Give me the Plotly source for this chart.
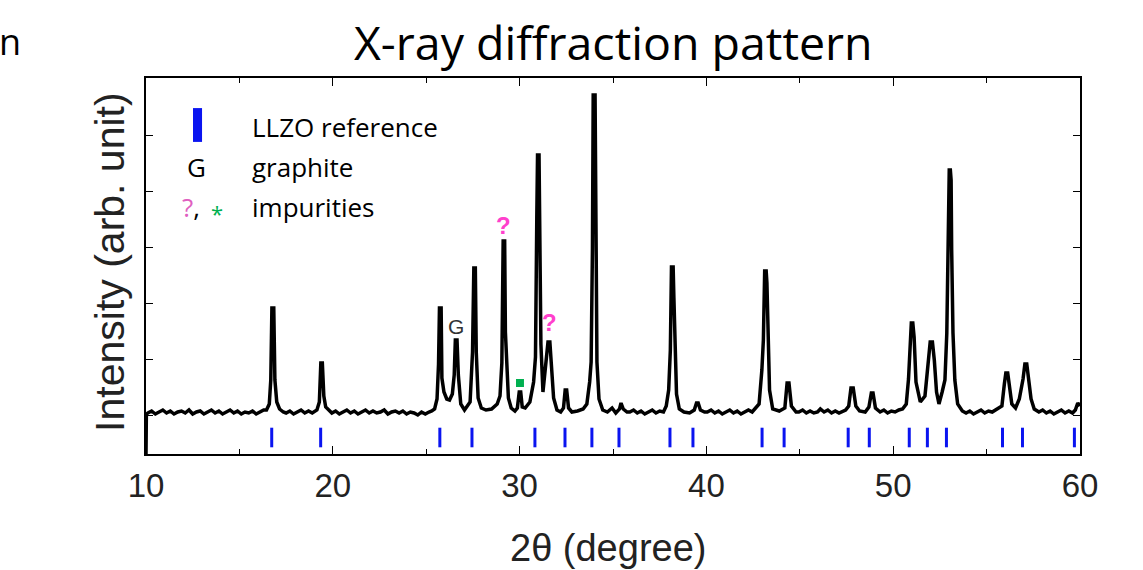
import plotly.graph_objects as go

# XRD pattern (2theta in degree, intensity in arb. unit)
two_theta = [
    10.00, 10.02, 10.1, 10.3, 10.5, 10.7, 10.9, 11.1, 11.3, 11.5, 11.7, 11.9, 12.1, 12.3, 12.5, 12.7, 12.9,
    13.1, 13.3, 13.5, 13.7, 13.9, 14.1, 14.3, 14.5, 14.7, 14.9, 15.1, 15.3, 15.5, 15.7, 15.9, 16.1, 16.3,
    16.45, 16.60, 16.68, 16.74, 16.84, 16.90, 17.00, 17.15, 17.35,
    17.5, 17.7, 17.9, 18.1, 18.3, 18.5, 18.7, 18.9, 19.05,
    19.15, 19.28, 19.36, 19.44, 19.52, 19.62, 19.80,
    19.95, 20.15, 20.35, 20.55, 20.75, 20.95, 21.15, 21.35, 21.55, 21.75, 21.95, 22.15, 22.35, 22.55,
    22.75, 22.95, 23.15, 23.35, 23.55, 23.75, 23.95, 24.15, 24.35, 24.55, 24.75, 24.95, 25.15, 25.3,
    25.45, 25.58, 25.66, 25.71, 25.80, 25.84, 25.95, 26.10, 26.25,
    26.40, 26.50, 26.56, 26.65, 26.72, 26.85, 27.05,
    27.35, 27.48, 27.55, 27.63, 27.68, 27.78, 27.95, 28.2, 28.5, 28.8,
    28.95, 29.05, 29.12, 29.20, 29.24, 29.30, 29.40, 29.55, 29.75,
    29.88, 29.98, 30.06, 30.14, 30.30,
    30.55, 30.75, 30.85, 30.92, 30.96, 31.04, 31.08, 31.14, 31.25,
    31.42, 31.52, 31.62, 31.70, 31.82, 32.00, 32.20,
    32.35, 32.44, 32.52, 32.62, 32.80, 33.10, 33.40,
    33.60, 33.75, 33.83, 33.90, 33.94, 34.04, 34.08, 34.14, 34.25, 34.45,
    34.70, 34.95, 35.15, 35.35, 35.43, 35.55, 35.75, 35.9, 36.1, 36.3, 36.5, 36.7, 36.9, 37.1, 37.3, 37.5, 37.7,
    37.85, 37.98, 38.07, 38.13, 38.22, 38.26, 38.32, 38.40, 38.55, 38.8, 39.1,
    39.35, 39.47, 39.56, 39.68, 39.9, 40.05, 40.25, 40.45, 40.65, 40.85, 41.05, 41.25, 41.45, 41.65,
    41.85, 42.05, 42.25, 42.45, 42.6,
    42.82, 42.97, 43.05, 43.12, 43.20, 43.24, 43.30, 43.38, 43.55, 43.9,
    44.2, 44.32, 44.42, 44.55, 44.8, 44.95, 45.15, 45.35, 45.55, 45.75, 45.95, 46.1, 46.3, 46.5,
    46.7, 46.9, 47.1, 47.3, 47.45,
    47.62, 47.74, 47.86, 48.00, 48.2, 48.5,
    48.7, 48.83, 48.92, 49.05, 49.3, 49.5, 49.7, 49.9, 50.1, 50.3, 50.5,
    50.70, 50.82, 50.92, 50.97, 51.05, 51.12, 51.22, 51.45,
    51.70, 51.88, 51.98, 52.10, 52.20, 52.32, 52.45,
    52.62, 52.77, 52.87, 52.92, 52.97, 53.00, 53.06, 53.10, 53.13, 53.20, 53.30, 53.45,
    53.7, 53.9, 54.1, 54.3, 54.5, 54.7, 54.9, 55.1, 55.3, 55.5,
    55.82, 55.95, 56.03, 56.13, 56.22, 56.35, 56.55,
    56.75, 56.95, 57.05, 57.15, 57.25, 57.38, 57.55,
    57.8, 58.0, 58.2, 58.4, 58.6, 58.8, 59.0, 59.2, 59.4, 59.6, 59.75, 59.88, 60.0,
]
intensity = [
    0, 40, 41, 43, 40, 42, 44, 41, 43, 40, 42, 43, 41, 44, 40, 42, 43,
    40, 42, 44, 41, 43, 40, 42, 44, 41, 43, 40, 42, 41, 43, 40, 42, 44,
    44, 50, 74, 146, 146, 74, 52, 45, 42,
    41, 43, 40, 42, 44, 41, 43, 41, 43,
    44, 52, 91, 91, 58, 47, 43,
    41, 43, 40, 42, 44, 41, 43, 40, 42, 44, 41, 43, 41, 42,
    44, 40, 42, 43, 41, 43, 40, 42, 41, 39, 42, 40, 42, 43,
    45, 55, 90, 146, 146, 76, 62, 55, 54,
    60, 79, 114, 114, 79, 50, 44,
    52, 102, 186, 186, 102, 56, 46, 44, 45, 50,
    58, 91, 213, 213, 122, 91, 56, 46, 43,
    46, 62, 62, 47, 46,
    52, 72, 97, 236, 299, 299, 206, 110, 62,
    91, 112, 112, 91, 56, 44, 42,
    46, 64, 64, 46, 42, 43, 45,
    50, 72, 92, 206, 359, 359, 206, 92, 55, 44,
    42, 46, 41, 45, 51, 45, 42, 42, 44, 41, 43, 40, 42, 44, 41, 43, 42,
    48, 64, 104, 187, 187, 156, 104, 60, 45, 42, 41,
    44, 51, 51, 44, 42, 42, 44, 41, 43, 40, 42, 44, 41, 43,
    40, 42, 44, 42, 45,
    50, 84, 114, 183, 183, 171, 114, 64, 45, 43,
    46, 71, 71, 48, 42, 42, 44, 41, 43, 41, 42, 45, 42, 44,
    41, 43, 41, 43, 44,
    48, 66, 66, 48, 43, 42,
    47, 61, 61, 46, 42, 44, 41, 43, 42, 44, 45,
    50, 75, 117, 131, 131, 117, 72, 52,
    58, 94, 112, 112, 94, 62, 50,
    62, 74, 121, 204, 274, 284, 284, 274, 204, 121, 74, 50,
    43, 41, 43, 40, 42, 44, 41, 43, 42, 44,
    48, 70, 81, 81, 68, 50, 46,
    55, 75, 90, 90, 75, 55, 45,
    42, 44, 41, 43, 40, 42, 44, 41, 43, 41, 44, 51, 48,
]
assert len(two_theta) == len(intensity)

# LLZO reference reflections
llzo_ref = [16.73, 19.35, 25.73, 27.45, 30.82, 32.43, 33.87, 35.32, 38.05, 39.28,
            42.98, 44.16, 47.59, 48.72, 50.86, 51.83, 52.85, 55.85, 56.92, 59.70]
ref_level = 16.5

# peak labels
graphite_peak = (26.62, 128)
unknown_peaks = [(29.14, 229), (31.62, 132)]
green_peak = (30.02, 71)

y_ticks = [39, 95, 151, 207, 263, 319]

fig = go.Figure()

fig.add_trace(go.Scatter(
    x=two_theta, y=intensity, mode='lines',
    line=dict(color='black', width=3.5),
    showlegend=False, hoverinfo='skip'
))

fig.add_trace(go.Scatter(
    x=llzo_ref, y=[ref_level] * len(llzo_ref), mode='markers',
    marker=dict(symbol='line-ns', size=14, line=dict(color='#0a14f0', width=3)),
    showlegend=False, hoverinfo='skip'
))

fig.add_trace(go.Scatter(
    x=[green_peak[0]], y=[green_peak[1]], mode='markers',
    marker=dict(symbol='square', size=8, color='#00b050'),
    showlegend=False, hoverinfo='skip'
))

annotations = []
annotations.append(dict(
    x=graphite_peak[0], y=graphite_peak[1], text='G', showarrow=False,
    font=dict(family='Liberation Sans', size=21, color='#333333')
))
for px, py in unknown_peaks:
    annotations.append(dict(
        x=px, y=py, text='<b>?</b>', showarrow=False,
        font=dict(family='Liberation Sans', size=24, color='#ff40cc')
    ))

# legend block (paper coordinates)
legend_font = dict(family='Open Sans', size=26, color='black')
annotations += [
    dict(xref='paper', yref='paper', x=0.111, y=0.870, text='LLZO reference',
         xanchor='left', yanchor='middle', showarrow=False, font=legend_font),
    dict(xref='paper', yref='paper', x=0.0546, y=0.763, text='G',
         xanchor='center', yanchor='middle', showarrow=False, font=legend_font),
    dict(xref='paper', yref='paper', x=0.111, y=0.763, text='graphite',
         xanchor='left', yanchor='middle', showarrow=False, font=legend_font),
    dict(xref='paper', yref='paper', x=0.111, y=0.657, text='impurities',
         xanchor='left', yanchor='middle', showarrow=False, font=legend_font),
    dict(xref='paper', yref='paper', x=0.060, y=0.657,
         text='<span style="color:#e060c0">?</span>,',
         xanchor='right', yanchor='middle', showarrow=False,
         font=dict(family='Open Sans', size=26, color='black')),
    dict(xref='paper', yref='paper', x=0.0765, y=0.640, text='*',
         xanchor='center', yanchor='middle', showarrow=False,
         font=dict(family='Open Sans', size=22, color='#00b050')),
]

# axis titles, chart title and the slide text at the left edge
annotations += [
    dict(xref='paper', yref='paper', x=-0.0385, y=0.511, text='Intensity (arb. unit)',
         textangle=-90, xanchor='center', yanchor='middle', showarrow=False,
         font=dict(family='Liberation Sans', size=41, color='#222222')),
    dict(xref='paper', yref='paper', x=0.495, y=-0.25, text='2θ (degree)',
         xanchor='center', yanchor='middle', showarrow=False,
         font=dict(family='Liberation Sans', size=38, color='#222222')),
    dict(xref='paper', yref='paper', x=0.5, y=1.097, text='X-ray diffraction pattern',
         xanchor='center', yanchor='middle', showarrow=False,
         font=dict(family='Open Sans', size=46.5, color='black')),
    dict(xref='paper', yref='paper', x=-0.159, y=1.097, text='n',
         xanchor='left', yanchor='middle', showarrow=False,
         font=dict(family='Open Sans', size=36, color='black')),
]

fig.update_layout(
    width=1143, height=570,
    margin=dict(l=146, r=63, t=78, b=116),
    paper_bgcolor='white', plot_bgcolor='white',
    annotations=annotations,
    shapes=[dict(type='rect', xref='paper', yref='paper',
                 x0=0.0503, x1=0.060, y0=0.830, y1=0.920,
                 fillcolor='#0a14f0', line=dict(width=0))],
)

fig.update_xaxes(
    range=[10, 60], dtick=10, tick0=10,
    showline=True, linecolor='black', linewidth=1.5, mirror='ticks',
    ticks='inside', ticklen=8, tickcolor='black', tickwidth=1.2,
    minor=dict(dtick=5, ticks='inside', ticklen=5, tickcolor='black'),
    showgrid=False, zeroline=False,
    tickfont=dict(family='Liberation Sans', size=33, color='#222222'),
    ticklabelstandoff=2,
)
fig.update_yaxes(
    range=[0, 376], tickvals=y_ticks, showticklabels=False,
    showline=True, linecolor='black', linewidth=1.5, mirror='ticks',
    ticks='inside', ticklen=7, tickcolor='black', tickwidth=1.2,
    showgrid=False, zeroline=False,
)

# drop the default 8px page margin so the figure fills the window exactly
fig.write_html("out.html", config={'displayModeBar': False},
               post_script="document.body.style.margin = '0';")
